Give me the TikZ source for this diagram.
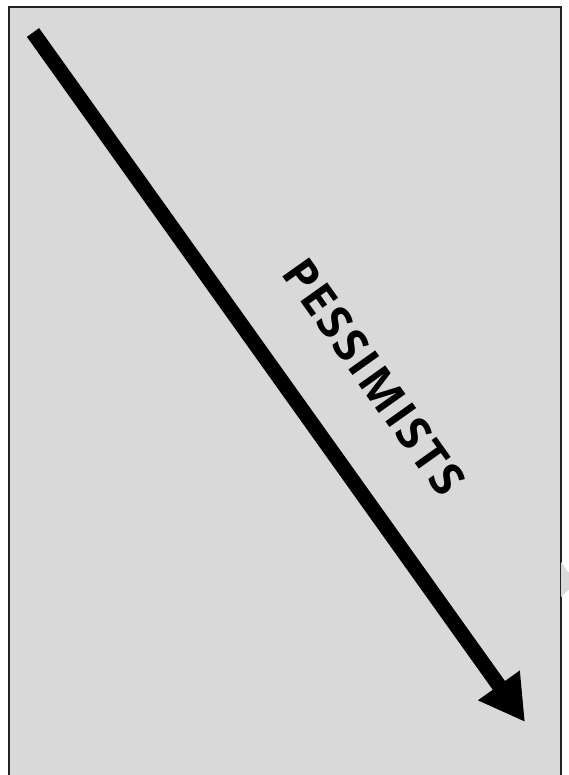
\documentclass[tikz,border=0pt]{standalone}
\usepackage{fontspec}
\setmainfont{Open Sans}
\newfontfamily\labelfont[LetterSpace=5]{Open Sans}
\usetikzlibrary{arrows.meta}
\definecolor{panelgray}{HTML}{D9D9D9}
\definecolor{edgegray}{HTML}{222222}
\tikzset{
  panel/.style={fill=panelgray, draw=edgegray, line width=2pt},
  bigarrow/.style={line width=15pt, line cap=butt, -{Triangle[length=45pt,width=48pt]}},
  label/.style={font=\labelfont\fontsize{46}{50}\selectfont\bfseries, inner sep=0pt, rotate=-54.6}
}
\begin{document}
\begin{tikzpicture}[x=1pt,y=-1pt]
\useasboundingbox (0,0) rectangle (569,775);
\draw[panel] (9,7) rectangle (561,790);
\fill[panelgray] (561,562) -- (568,572) -- (569,572) -- (569,590) -- (568,590) -- (561,597) -- cycle;
\coordinate (s) at (33,32.5);
\coordinate (t) at (525,722);
\draw[bigarrow] (s) -- (t);
\node[label] (lbl) at (374,377) {PESSIMISTS};
\end{tikzpicture}
\end{document}
